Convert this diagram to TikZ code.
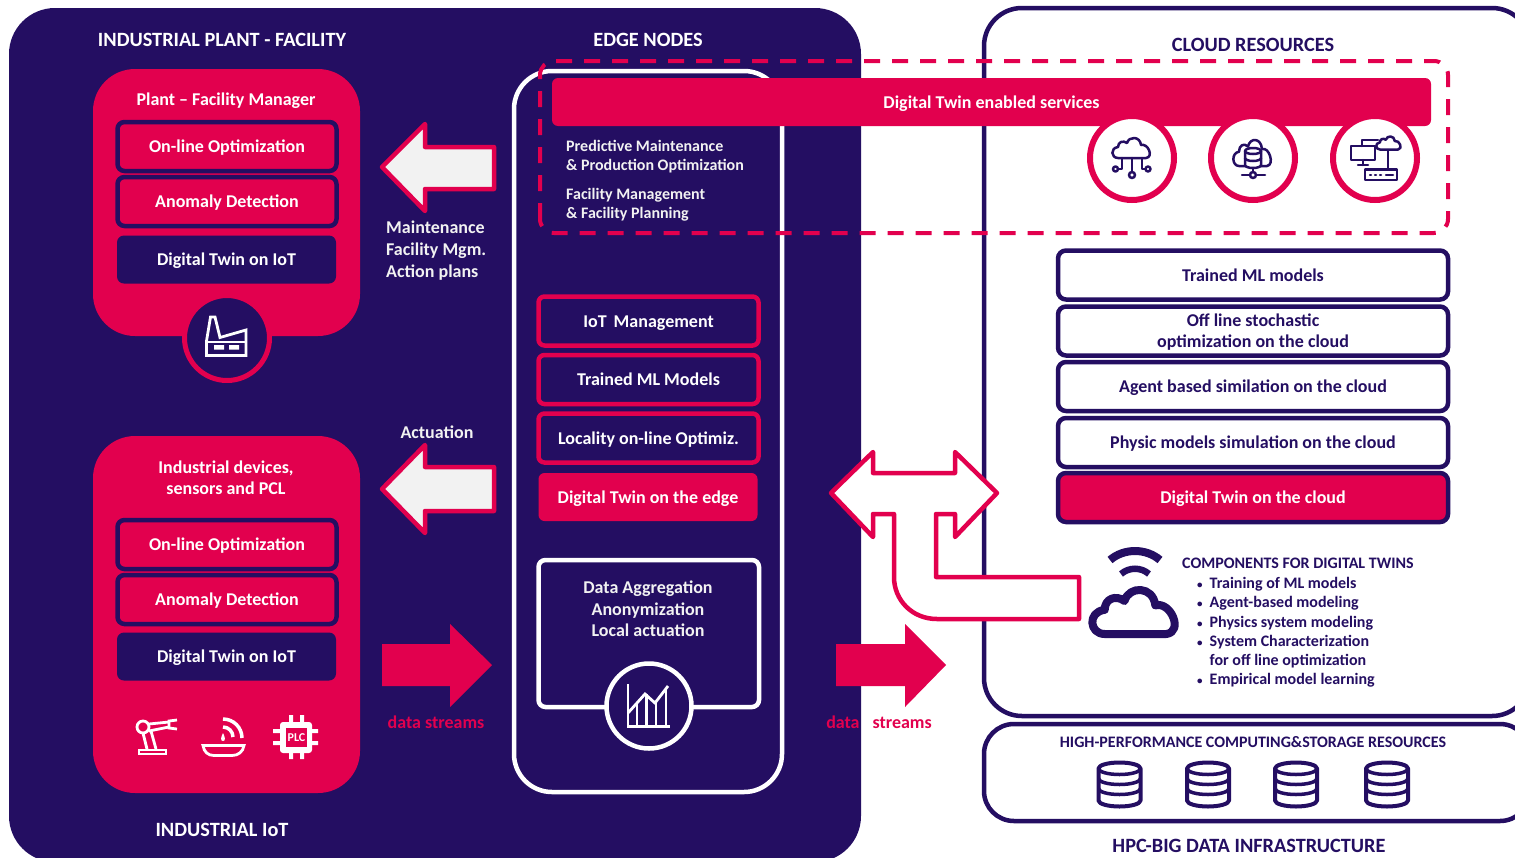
\documentclass[tikz,border=0pt]{standalone}
\usepackage{fontspec}
\setmainfont{Carlito}
\usepackage{tikz}
\usetikzlibrary{calc}
\definecolor{navy}{RGB}{36,14,98}
\definecolor{crim}{RGB}{226,0,78}
\definecolor{pale}{RGB}{242,242,242}
\newcommand{\tinybullet}{{\fontsize{11}{11}\selectfont\textbullet}}
\tikzset{
	txt/.style={font=\fontsize{18}{21}\selectfont\bfseries, align=center, inner sep=0pt},
	line/.style={txt, text height=15pt, text depth=3pt},
	head/.style={font=\fontsize{20.3}{24}\selectfont\bfseries, align=center, inner sep=0pt},
	small/.style={font=\fontsize{16}{19}\selectfont\bfseries, align=left, inner sep=0pt},
	redbox/.style={line, draw=navy, line width=4.5pt, fill=crim, text=white, rounded corners=7pt, minimum width=219pt, minimum height=49pt},
	navybox/.style={line, fill=navy, text=white, rounded corners=7pt, minimum width=219pt, minimum height=48pt},
	edgebox/.style={line, draw=crim, line width=4.5pt, fill=navy, text=white, rounded corners=6pt, minimum width=220pt, minimum height=49pt},
	cloudbox/.style={txt, draw=navy, line width=4.5pt, fill=white, text=navy, rounded corners=8pt, minimum width=390pt, minimum height=49pt},
	ring/.style={circle, draw=crim, line width=6pt, fill=white, minimum size=84pt, inner sep=0pt},
	hollow/.style={draw=crim, line width=4.5pt, fill=pale, line join=round},
	solid arrow/.style={fill=crim},
	icon/.style={draw=navy, line width=2.5pt, line cap=round, line join=round},
	whiteicon/.style={draw=white, line width=2.8pt, line join=miter},
	cloudpic/.pic={
		\path[pic actions] (-14,10) .. controls (-21,10) and (-22,0) .. (-14,-1) .. controls (-14,-6) and (-9,-8) .. (-5,-5) .. controls (-3,-12) and (8,-12) .. (9,-3) .. controls (16,-5) and (22,9) .. (14,10) -- cycle;
	},
	diskpic/.pic={
		\path[draw=navy, line width=4pt, line join=round, fill=white] (-21,-16) arc (180:360:21 and 6) -- (21,16) arc (0:180:21 and 6) -- cycle;
		\path[draw=navy, line width=3.5pt] (-21,-16) arc (180:0:21 and 6);
		\path[draw=navy, line width=3.5pt] (-21,-6) arc (180:0:21 and 6);
		\path[draw=navy, line width=3.5pt] (-21,4) arc (180:0:21 and 6);
	}
}
\begin{document}
\begin{tikzpicture}[x=1pt, y=-1pt]
	\useasboundingbox (0,0) rectangle (1515,857);
	\clip (0,0) rectangle (1515,857);
	\fill[white] (0,0) rectangle (1515,857);
	%%%%% PANELS %%%%%
	\fill[navy, rounded corners=46pt] (9,8) rectangle (861,862);
	\draw[navy, line width=4.5pt, rounded corners=38pt] (984,8) rectangle (1530,716);
	\draw[navy, line width=4.5pt, rounded corners=30pt] (984,724) rectangle (1530,821);
	\draw[white, line width=4.5pt, rounded corners=38pt] (514,71) rectangle (782,792);

	\node[head, text=white] (planttitle) at (222,39.5) {INDUSTRIAL PLANT - FACILITY};
	\node[head, text=white] (edgetitle) at (648,39.5) {EDGE NODES};
	\node[head, text=white] (iottitle) at (222,829.5) {INDUSTRIAL IoT};
	\node[head, text=navy] (cloudtitle) at (1253,44.5) {CLOUD RESOURCES};
	\node[head, text=navy] (hpctitle) at (1249,845.5) {HPC-BIG DATA INFRASTRUCTURE};

	%%%%% PLANT MANAGER %%%%%
	\fill[crim, rounded corners=42pt] (93,69) rectangle (360,336);
	\node[txt, text=white] (managertitle) at (226,100.5) {Plant – Facility Manager};
	\node[redbox] (optimtop) at (227,146.5) {On-line Optimization};
	\node[redbox] (anomtop) at (227,201.5) {Anomaly Detection};
	\node[navybox] (twintop) at (226.5,259.5) {Digital Twin on IoT};
	\node[circle, draw=crim, line width=5pt, fill=navy, minimum size=85pt, inner sep=0pt] (factoryring) at (227,338) {};
	\draw[whiteicon] (206.5,355.5) -- (246,355.5) -- (246,330) -- (220,337.5) -- (215,317) -- (210.5,317) -- (206.5,341) -- cycle;
	\draw[whiteicon] (206.5,342) -- (246,342);
	\fill[white] (214,345) rectangle (224,349.5) (229,345) rectangle (239,349.5);

	%%%%% DEVICES %%%%%
	\fill[crim, rounded corners=42pt] (93,436) rectangle (360,793);
	\node[txt, text=white] (devicetitle) at (226,477.5) {Industrial devices,\\[0.5pt]sensors and PCL};
	\node[redbox] (optimlow) at (227,544.5) {On-line Optimization};
	\node[redbox] (anomlow) at (227,599.5) {Anomaly Detection};
	\node[navybox] (twinlow) at (226.5,656.5) {Digital Twin on IoT};

	% robot
	\draw[whiteicon] (143,727) circle (6);
	\draw[whiteicon] (149,724) -- (169,722) (149,731) -- (169,727);
	\draw[whiteicon] (177,720) -- (169,721) -- (169,728) -- (177,729);
	\draw[whiteicon] (143,733) -- (147,749) (151,731) -- (156,749);
	\draw[whiteicon] (139,750) rectangle (166,754);
	% bowl
	\draw[whiteicon] (203,745.5) -- (244,745.5) .. controls (243,752) and (238,755.5) .. (232,755.5) -- (214,755.5) .. controls (208,755.5) and (204,752) .. (203,745.5) -- cycle;
	\draw[white, line width=3.5pt] (223,719) arc (-90:0:19);
	\draw[white, line width=3.5pt] (223,727) arc (-90:0:10);
	\fill[white] (223,733) .. controls (221,737) and (220,741) .. (223,741) .. controls (226,741) and (225,737) .. (223,733) -- cycle;
	% chip
	\fill[white] (289,715) rectangle (293,759) (300,715) rectangle (304,759) (273,729) rectangle (318,733) (273,741) rectangle (318,745);
	\fill[white, rounded corners=3pt] (280,722) rectangle (312,753);
	\fill[crim] (286,728) rectangle (307,747);
	\node[inner sep=0pt, text=white, font=\fontsize{12}{12}\selectfont\bfseries] (plc) at (296.5,737.5) {PLC};

	%%%%% ARROWS LEFT %%%%%
	\draw[hollow] (382,167) -- (425,124) -- (425,147) -- (494,147) -- (494,189) -- (425,189) -- (425,211) -- cycle;
	\draw[hollow] (382,489) -- (425,445) -- (425,467) -- (494,467) -- (494,511) -- (425,511) -- (425,533) -- cycle;
	\node[txt, text=pale, align=left, anchor=north west] (feedback) at (386,221) {Maintenance\\[0.6pt]Facility Mgm.\\[0.6pt]Action plans};
	\node[txt, text=pale] (actuation) at (437,432.5) {Actuation};
	\fill[solid arrow] (382,644) -- (450,644) -- (450,624) -- (492,665) -- (450,707) -- (450,686) -- (382,686) -- cycle;
	\node[txt, text=crim] (streamsleft) at (436,722.5) {data streams};

	%%%%% EDGE %%%%%
	\node[edgebox] (iotmgmt) at (648.5,321) {IoT\, Management};
	\node[edgebox] (mlmodels) at (648.5,379.5) {Trained ML Models};
	\node[edgebox] (locality) at (648.5,438) {Locality on-line Optimiz.};
	\node[line, fill=crim, text=white, rounded corners=6pt, minimum width=219pt, minimum height=48pt] (twinedge) at (648,497) {Digital Twin on the edge};
	\draw[white, line width=4.5pt, rounded corners=7pt] (538.5,560) rectangle (759,707);
	\node[txt, text=pale] (dataops) at (648,609) {Data Aggregation\\[0.4pt]Anonymization\\[0.4pt]Local actuation};
	\node[circle, draw=white, line width=4.5pt, fill=navy, minimum size=85pt, inner sep=0pt] (chartring) at (649,706) {};
	\draw[whiteicon] (628,684) -- (628,726.5) -- (670,726.5);
	\draw[whiteicon] (628,713) -- (645,694) -- (655,703) -- (668,686);
	\draw[whiteicon] (637,704) -- (637,726) (646.5,694) -- (646.5,726) (656,703) -- (656,726) (666,690) -- (666,726);

	%%%%% SERVICES %%%%%
	\draw[crim, line width=4pt, dash pattern=on 16pt off 12pt, rounded corners=14pt] (540,233) -- (540,61) -- (1448,61) -- (1448,233) -- cycle;
	\node[line, fill=crim, text=white, rounded corners=6pt, minimum width=879pt, minimum height=48pt] (services) at (991.5,102) {Digital Twin enabled services};
	\node[ring] (ringa) at (1132,158) {};
	\node[ring] (ringb) at (1253,158) {};
	\node[ring] (ringc) at (1375,158) {};
	\node[small, text=pale, anchor=west] (predictive) at (566,157) {Predictive Maintenance\\[0pt]\& Production Optimization};
	\node[small, text=pale, anchor=west] (facility) at (566,205) {Facility Management\\[0pt]\& Facility Planning};

	% cloud with nodes
	\pic[icon, fill=white] at (1132,148) {cloudpic};
	\draw[icon] (1122,158) -- (1122,169) -- (1118,169) (1132,158) -- (1132,172) (1142,158) -- (1142,169) -- (1145,169);
	\draw[icon] (1115.5,169) circle (2.5) (1132,175) circle (3) (1148,169) circle (2.5);
	% cloud with storage
	\pic[icon, fill=white, yscale=1.3] at (1253,153) {cloudpic};
	\draw[icon, fill=white] (1245,151) arc (180:360:8 and 3) -- (1261,165) arc (0:180:8 and 3) -- cycle;
	\draw[icon] (1245,151) arc (180:0:8 and 3) (1245,158) arc (180:0:8 and 3);
	\draw[icon] (1253,168) -- (1253,172) (1242,175) -- (1250,175) (1256,175) -- (1265,175);
	\draw[icon] (1253,175) circle (3);
	% monitor, cloud and router
	\pic[icon, fill=white, scale=0.65] at (1389,143) {cloudpic};
	\draw[icon] (1351,146) rectangle (1375,160) (1358,165) -- (1368,165) (1363,160) -- (1363,165);
	\draw[icon] (1362,146) -- (1362,140) -- (1378,140) (1388,150) -- (1388,169);
	\draw[icon] (1365,169.5) rectangle (1397,180);
	\draw[icon] (1370,175) -- (1371,175) (1375,175) -- (1376,175) (1380,175) -- (1381,175) (1386,175) -- (1393,175);

	%%%%% CLOUD BOXES %%%%%
	\node[cloudbox, line] (trained) at (1253,275) {Trained ML models};
	\node[cloudbox] (offline) at (1253,331) {\rule{0pt}{15pt}Off line stochastic\\[-0.5pt]optimization on the cloud};
	\node[cloudbox, line] (agent) at (1253,386.5) {Agent based similation on the cloud};
	\node[cloudbox, line] (physic) at (1253,442.5) {Physic models simulation on the cloud};
	\node[cloudbox, line, fill=crim, text=white] (twincloud) at (1253,497.5) {Digital Twin on the cloud};

	%%%%% BENT ARROW %%%%%
	\fill[solid arrow] (836,644) -- (905,644) -- (905,624) -- (946,665) -- (905,707) -- (905,686) -- (836,686) -- cycle;
	\node[txt, text=crim] (streamsright) at (879,722.5) {data\hspace{13pt}streams};
	\draw[draw=crim, line width=4.5pt, fill=white, line join=round] (831,493) -- (873,452) -- (873,473) -- (955,473) -- (955,452) -- (997,493) -- (955,537) -- (955,514) -- (936,514) -- (936,577) -- (1079,577) -- (1079,619) -- (937,619) .. controls (912,619) and (894,600) .. (894,577) -- (894,514) -- (873,514) -- (873,537) -- cycle;

	%%%%% COMPONENTS %%%%%
	\draw[navy, line width=8pt, line cap=butt] (1110,560) .. controls (1124,548) and (1146,548) .. (1160,560);
	\draw[navy, line width=6.5pt, line cap=butt] (1121,574) .. controls (1129,567) and (1141,567) .. (1149,574);
	\pic[draw=navy, line width=8pt, line join=round, scale=2.2] at (1135.5,612) {cloudpic};
	\node[small, text=navy, anchor=west] (comptitle) at (1182,563.5) {COMPONENTS FOR DIGITAL TWINS};
	\node[small, text=navy, anchor=north west] (complist) at (1197,577) {%
		\tinybullet\hspace{7pt}Training of ML models\\[0.3pt]
		\tinybullet\hspace{7pt}Agent-based modeling\\[0.3pt]
		\tinybullet\hspace{7pt}Physics system modeling\\[0.3pt]
		\tinybullet\hspace{7pt}System Characterization\\[0.3pt]
		\phantom{\tinybullet}\hspace{7pt}for off line optimization\\[0.3pt]
		\tinybullet\hspace{7pt}Empirical model learning};

	%%%%% HPC %%%%%
	\node[small, text=navy] (hpclabel) at (1253,742.5) {HIGH-PERFORMANCE COMPUTING\&STORAGE RESOURCES};
	\pic at (1119.5,784.5) {diskpic};
	\pic at (1208,784.5) {diskpic};
	\pic at (1296,784.5) {diskpic};
	\pic at (1387,784.5) {diskpic};
\end{tikzpicture}
\end{document}
